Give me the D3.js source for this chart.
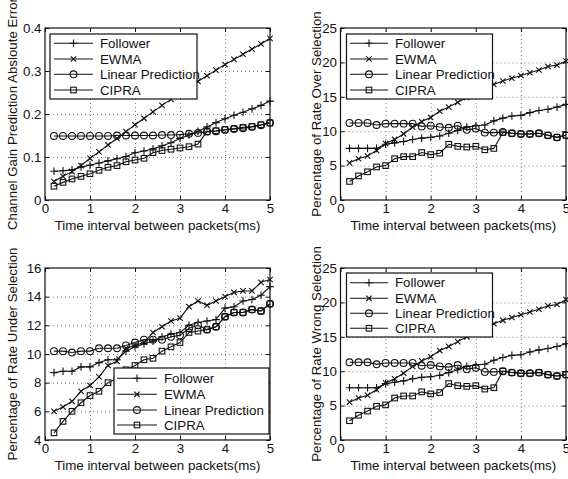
<!DOCTYPE html>
<html>
<head>
<meta charset="utf-8">
<script src="https://cdn.jsdelivr.net/npm/d3@7"></script>
<style>
  body { margin: 0; background: #fff; }
  svg text { font-family: "Liberation Sans", Arial, Helvetica, sans-serif; fill: #111; }
</style>
</head>
<body>
<svg id="chart" width="568" height="479"></svg>
<script>

// DATA
var timeInterval = [0.2, 0.4, 0.6, 0.8, 1.0, 1.2, 1.4, 1.6, 1.8, 2.0, 2.2, 2.4, 2.6,
                    2.8, 3.0, 3.2, 3.4, 3.6, 3.8, 4.0, 4.2, 4.4, 4.6, 4.8, 5.0];
var seriesNames = ["Follower", "EWMA", "Linear Prediction", "CIPRA"];

// channel gain prediction abs error
var gainFollower = [0.067, 0.068, 0.070, 0.077, 0.081, 0.086, 0.091, 0.096, 0.101, 0.110, 0.114, 0.119, 0.126,
                    0.133, 0.143, 0.151, 0.160, 0.170, 0.180, 0.189, 0.197, 0.204, 0.212, 0.220, 0.230];
var gainEwma = [0.043, 0.055, 0.066, 0.080, 0.097, 0.112, 0.128, 0.143, 0.159, 0.175, 0.190, 0.205, 0.220,
                0.234, 0.248, 0.262, 0.276, 0.289, 0.302, 0.315, 0.327, 0.339, 0.351, 0.363, 0.376];
var gainLinear = [0.149, 0.149, 0.149, 0.149, 0.149, 0.149, 0.149, 0.150, 0.150, 0.150, 0.150, 0.150, 0.151,
                  0.151, 0.152, 0.154, 0.156, 0.159, 0.160, 0.163, 0.165, 0.167, 0.170, 0.174, 0.180];
var gainCipra = [0.032, 0.041, 0.049, 0.055, 0.061, 0.069, 0.076, 0.080, 0.089, 0.093, 0.097, 0.110, 0.115,
                 0.118, 0.121, 0.124, 0.130, 0.159, 0.161, 0.164, 0.166, 0.169, 0.171, 0.175, 0.179];

// rate over selection (%)
var overFollower = [7.5, 7.5, 7.5, 7.5, 8.1, 8.3, 8.5, 8.8, 9.0, 9.1, 9.3, 9.7, 10.1,
                    10.6, 10.8, 10.9, 11.5, 11.9, 12.2, 12.3, 12.7, 13.0, 13.2, 13.5, 13.9];
var overEwma = [5.4, 6.0, 6.4, 7.2, 8.2, 8.8, 9.6, 10.6, 11.4, 12.0, 12.9, 13.5, 14.2,
                14.9, 15.6, 16.2, 16.8, 17.3, 17.7, 18.1, 18.5, 18.9, 19.4, 19.6, 20.2];
var overLinear = [11.2, 11.2, 11.2, 10.9, 11.1, 11.1, 11.1, 11.1, 10.7, 10.8, 10.6, 10.5, 10.8,
                  10.2, 10.4, 9.8, 9.8, 9.9, 9.7, 9.6, 9.6, 9.7, 9.4, 9.1, 9.4];
var overCipra = [2.7, 3.5, 4.1, 4.8, 5.0, 6.0, 6.3, 6.3, 6.9, 6.6, 6.8, 8.1, 7.8,
                 7.7, 7.8, 7.3, 7.5, 9.8, 9.7, 9.6, 9.6, 9.7, 9.4, 9.1, 9.4];

// rate under selection (%)
var underFollower = [8.7, 8.8, 8.8, 9.1, 9.1, 9.4, 9.6, 9.6, 10.2, 10.5, 10.7, 10.9, 11.2,
                     11.4, 11.5, 12.0, 12.2, 12.3, 12.4, 13.2, 13.3, 13.7, 13.8, 14.1, 14.7];
var underEwma = [6.0, 6.3, 6.7, 7.4, 7.8, 8.4, 9.2, 9.5, 10.4, 10.6, 10.8, 11.5, 11.9,
                 12.3, 12.5, 13.3, 13.7, 13.4, 13.7, 14.0, 14.3, 14.4, 14.4, 15.0, 15.2];
var underLinear = [10.2, 10.2, 10.1, 10.2, 10.2, 10.4, 10.4, 10.4, 10.6, 10.8, 11.0, 11.0, 11.0,
                   11.2, 11.3, 11.8, 12.0, 11.7, 11.9, 12.6, 12.9, 12.9, 13.1, 13.0, 13.5];
var underCipra = [4.5, 5.3, 6.0, 6.6, 7.1, 7.4, 8.0, 8.3, 8.9, 9.2, 9.6, 9.7, 10.2,
                  10.5, 10.8, 11.5, 11.6, 11.7, 11.9, 12.6, 12.9, 12.9, 13.1, 13.0, 13.5];

// rate wrong selection (%)
var wrongFollower = [7.6, 7.6, 7.6, 7.6, 8.2, 8.4, 8.6, 8.9, 9.1, 9.2, 9.4, 9.8, 10.2,
                     10.7, 10.9, 11.0, 11.6, 12.0, 12.3, 12.4, 12.8, 13.1, 13.3, 13.6, 14.0];
var wrongEwma = [5.5, 6.1, 6.5, 7.3, 8.3, 8.9, 9.7, 10.7, 11.5, 12.1, 13.0, 13.6, 14.3,
                 15.0, 15.7, 16.3, 16.9, 17.4, 17.8, 18.2, 18.6, 19.0, 19.5, 19.7, 20.4];
var wrongLinear = [11.3, 11.3, 11.3, 11.0, 11.2, 11.2, 11.2, 11.2, 10.8, 10.9, 10.7, 10.6, 10.9,
                   10.3, 10.5, 9.9, 9.9, 10.0, 9.8, 9.7, 9.7, 9.8, 9.5, 9.3, 9.5];
var wrongCipra = [2.8, 3.6, 4.2, 4.9, 5.1, 6.1, 6.4, 6.4, 7.0, 6.7, 6.9, 8.2, 7.9,
                  7.8, 7.9, 7.4, 7.6, 10.0, 9.8, 9.7, 9.7, 9.8, 9.5, 9.3, 9.5];

var xTicks = [0, 1, 2, 3, 4, 5];
var gainTicks = [0, 0.1, 0.2, 0.3, 0.4];
var pctTicks = [0, 5, 10, 15, 20, 25];
var underTicks = [4, 6, 8, 10, 12, 14, 16];

var xTitle = "Time interval between packets(ms)";

// PANELS (layout)
var panels = [
  { left: 45, right: 270, top: 28, bottom: 200, yDomain: [0, 0.4], yTicks: gainTicks, yFmt: function(d){ return d === 0 ? "0" : d3.format(".1f")(d); },
    title: "Channel Gain Prediction Absloute Error", titleX: 17,
    series: [gainFollower, gainEwma, gainLinear, gainCipra],
    legend: { x: 50, y: 34, w: 147, h: 65, rows: [43.3, 59, 74.3, 90], lx0: 54, lx1: 93, tx: 100 } },
  { left: 340.5, right: 566, top: 28, bottom: 200, yDomain: [0, 25], yTicks: pctTicks, yFmt: d3.format("d"),
    title: "Percentage of Rate Over Selection", titleX: 321,
    series: [overFollower, overEwma, overLinear, overCipra],
    legend: { x: 346.5, y: 34, w: 146, h: 65, rows: [43.3, 59, 74.3, 90], lx0: 350, lx1: 388, tx: 395 } },
  { left: 45, right: 270, top: 268, bottom: 440, yDomain: [4, 16], yTicks: underTicks, yFmt: d3.format("d"),
    title: "Percentage of Rate Under Selection", titleX: 17,
    series: [underFollower, underEwma, underLinear, underCipra],
    legend: { x: 114, y: 368, w: 155, h: 66, rows: [378.3, 394.3, 410, 425], lx0: 117, lx1: 157, tx: 164 } },
  { left: 340.5, right: 566, top: 268, bottom: 440, yDomain: [0, 25], yTicks: pctTicks, yFmt: d3.format("d"),
    title: "Percentage of Rate Wrong Selection", titleX: 321,
    series: [wrongFollower, wrongEwma, wrongLinear, wrongCipra],
    legend: { x: 346.5, y: 273, w: 146, h: 64, rows: [282.7, 298.3, 313.3, 328.3], lx0: 350, lx1: 388, tx: 395 } }
];

var fontSize = "13.3px";
var ink = "#111";

var svg = d3.select("#chart");

// marker drawing
function drawMarker(g, kind, cx, cy) {
  if (kind === 0) {
    g.append("path").attr("d", "M" + (cx - 3.8) + "," + cy + "H" + (cx + 3.8) + "M" + cx + "," + (cy - 3.8) + "V" + (cy + 3.8))
      .attr("stroke", ink).attr("stroke-width", 1.1).attr("fill", "none");
  } else if (kind === 1) {
    g.append("path").attr("d", "M" + (cx - 2.7) + "," + (cy - 2.7) + "L" + (cx + 2.7) + "," + (cy + 2.7) +
        "M" + (cx - 2.7) + "," + (cy + 2.7) + "L" + (cx + 2.7) + "," + (cy - 2.7))
      .attr("stroke", ink).attr("stroke-width", 1.1).attr("fill", "none");
  } else if (kind === 2) {
    g.append("circle").attr("cx", cx).attr("cy", cy).attr("r", 3.4)
      .attr("stroke", ink).attr("stroke-width", 1.1).attr("fill", "none");
  } else {
    g.append("rect").attr("x", cx - 2.8).attr("y", cy - 2.8).attr("width", 5.6).attr("height", 5.6)
      .attr("stroke", ink).attr("stroke-width", 1.1).attr("fill", "none");
  }
}

panels.forEach(function(p) {
  var w = p.right - p.left, h = p.bottom - p.top;
  var g = svg.append("g").attr("transform", "translate(" + p.left + "," + p.top + ")");

  var x = d3.scaleLinear().domain([0, 5]).range([0, w]);
  var y = d3.scaleLinear().domain(p.yDomain).range([h, 0]);

  // dotted grid
  g.append("g")
    .attr("transform", "translate(0," + h + ")")
    .call(d3.axisBottom(x).tickValues(xTicks.slice(1, -1)).tickSize(-h).tickFormat(""))
    .call(function(s) { s.select(".domain").remove(); })
    .selectAll("line").attr("stroke", "#777").attr("stroke-dasharray", "1,3");
  g.append("g")
    .call(d3.axisLeft(y).tickValues(p.yTicks.slice(1, -1)).tickSize(-w).tickFormat(""))
    .call(function(s) { s.select(".domain").remove(); })
    .selectAll("line").attr("stroke", "#777").attr("stroke-dasharray", "1,3");

  // lines + markers
  var line = d3.line()
    .x(function(d, i) { return x(timeInterval[i]); })
    .y(function(d) { return y(d); });

  p.series.forEach(function(values, k) {
    g.append("path").datum(values)
      .attr("d", line)
      .attr("fill", "none").attr("stroke", ink).attr("stroke-width", 1.1);
    var mg = g.append("g");
    values.forEach(function(v, i) { drawMarker(mg, k, x(timeInterval[i]), y(v)); });
  });

  // axes with inward ticks
  var ax = g.append("g").attr("transform", "translate(0," + h + ")")
    .call(d3.axisBottom(x).tickValues(xTicks).tickSizeInner(-4).tickSizeOuter(0).tickPadding(3.5).tickFormat(d3.format("d")));
  var ay = g.append("g")
    .call(d3.axisLeft(y).tickValues(p.yTicks).tickSizeInner(-4).tickSizeOuter(0).tickPadding(3.5).tickFormat(p.yFmt));
  var axTop = g.append("g")
    .call(d3.axisTop(x).tickValues(xTicks).tickSizeInner(-4).tickSizeOuter(0).tickFormat(""));
  var ayRight = g.append("g").attr("transform", "translate(" + w + ",0)")
    .call(d3.axisRight(y).tickValues(p.yTicks).tickSizeInner(-4).tickSizeOuter(0).tickFormat(""));

  [ax, ay, axTop, ayRight].forEach(function(a) {
    a.select(".domain").remove();
    a.selectAll("line").attr("stroke", ink);
    a.selectAll("text").style("font-size", fontSize).attr("fill", ink)
      .style("font-family", "'Liberation Sans', Arial, Helvetica, sans-serif");
  });

  // box
  g.append("rect").attr("width", w).attr("height", h)
    .attr("fill", "none").attr("stroke", ink).attr("stroke-width", 1.2);

  // axis titles
  svg.append("text")
    .attr("x", (p.left + p.right) / 2).attr("y", p.bottom + 29.5)
    .attr("text-anchor", "middle").style("font-size", fontSize)
    .text(xTitle);
  svg.append("text")
    .attr("transform", "translate(" + p.titleX + "," + (p.top + p.bottom) / 2 + ") rotate(-90)")
    .attr("text-anchor", "middle").style("font-size", fontSize)
    .text(p.title);

  // legend
  var L = p.legend;
  var lg = svg.append("g");
  lg.append("rect").attr("x", L.x).attr("y", L.y).attr("width", L.w).attr("height", L.h)
    .attr("fill", "#fff").attr("stroke", ink).attr("stroke-width", 1.2);
  seriesNames.forEach(function(name, k) {
    var ry = L.rows[k];
    lg.append("line").attr("x1", L.lx0).attr("x2", L.lx1).attr("y1", ry).attr("y2", ry)
      .attr("stroke", ink).attr("stroke-width", 1.1);
    drawMarker(lg, k, (L.lx0 + L.lx1) / 2, ry);
    lg.append("text").attr("x", L.tx).attr("y", ry + 4.6)
      .style("font-size", fontSize).text(name);
  });
});
</script>
</body>
</html>
